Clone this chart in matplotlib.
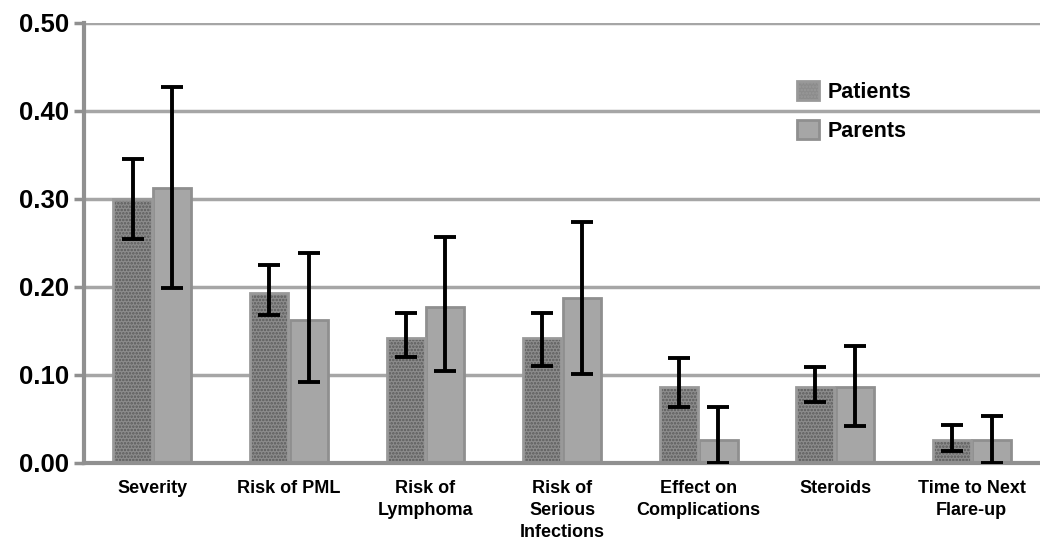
import matplotlib
matplotlib.use("Agg")
import matplotlib.pyplot as plt
import numpy as np
from matplotlib.patches import Patch

plt.rcParams['font.family'] = ['Liberation Sans', 'DejaVu Sans']
plt.rcParams['hatch.linewidth'] = 1.2

categories = ["Severity", "Risk of PML", "Risk of\nLymphoma", "Risk of\nSerious\nInfections",
              "Effect on\nComplications", "Steroids", "Time to Next\nFlare-up"]
patients = [0.30, 0.193, 0.142, 0.142, 0.086, 0.086, 0.026]
patients_lo = [0.255, 0.168, 0.120, 0.110, 0.064, 0.069, 0.014]
patients_hi = [0.345, 0.225, 0.170, 0.170, 0.119, 0.109, 0.043]
parents = [0.313, 0.163, 0.177, 0.188, 0.026, 0.086, 0.026]
parents_lo = [0.199, 0.092, 0.105, 0.101, 0.0, 0.042, 0.0]
parents_hi = [0.427, 0.239, 0.257, 0.274, 0.064, 0.133, 0.053]
yticks = [0.0, 0.1, 0.2, 0.3, 0.4, 0.5]

fig = plt.figure(figsize=(10.4, 5.42), dpi=100)
ax = fig.add_axes([0.0808, 0.1458, 0.9192, 0.8118])

x = np.arange(len(categories))
w = 0.28
gap = 0.005
p = np.array(patients); q = np.array(parents)
err_p = [p - np.array(patients_lo), np.array(patients_hi) - p]
err_q = [q - np.array(parents_lo), np.array(parents_hi) - q]

ax.bar(x - w/2 - gap, p, w, facecolor='#8c8c8c', edgecolor='#5a5a5a', hatch='.....',
       linewidth=0, zorder=2)
ax.bar(x - w/2 - gap, p, w, facecolor='none', edgecolor='#999999', linewidth=2, zorder=2.1)
ax.bar(x + w/2 + gap, q, w, facecolor='#a6a6a6', edgecolor='#8f8f8f', linewidth=2, zorder=2)
ax.errorbar(x - w/2 - gap, p, yerr=err_p, fmt='none', ecolor='black', elinewidth=2.8,
            capsize=8, capthick=2.8, zorder=3)
ax.errorbar(x + w/2 + gap, q, yerr=err_q, fmt='none', ecolor='black', elinewidth=2.8,
            capsize=8, capthick=2.8, zorder=3)

handles = [Patch(facecolor='#8c8c8c', edgecolor='#999999', hatch='.....', linewidth=2),
           Patch(facecolor='#a6a6a6', edgecolor='#8f8f8f', linewidth=2)]

ax.set_xlim(-0.5, 6.5)
ax.set_ylim(0, 0.5)
ax.set_yticks(yticks)
ax.set_yticklabels([f"{t:.2f}" for t in yticks], fontsize=18.5, fontweight='bold')
ax.yaxis.grid(True, color='#a6a6a6', linewidth=2.5, zorder=0)
ax.set_axisbelow(True)
ax.set_xticks(x)
ax.set_xticklabels(categories, fontsize=13, fontweight='bold', linespacing=1.4, va='top')
ax.tick_params(axis='x', length=0, pad=12)
ax.tick_params(axis='y', length=7, width=2.5, color='#909090', pad=4)
for s in ['top', 'right']:
    ax.spines[s].set_visible(False)
ax.spines['left'].set_color('#909090')
ax.spines['left'].set_linewidth(3)
ax.spines['bottom'].set_color('#909090')
ax.spines['bottom'].set_linewidth(3)

with plt.rc_context({'hatch.color': '#5a5a5a'}):
    leg = ax.legend(handles, ['Patients', 'Parents'], loc='upper left',
                    bbox_to_anchor=(0.726, 0.913), frameon=False,
                    prop={'weight': 'bold', 'size': 15.5}, handlelength=1.0, handleheight=1.0,
                    handletextpad=0.4, labelspacing=0.8)

fig.savefig("out.png", dpi=100)
